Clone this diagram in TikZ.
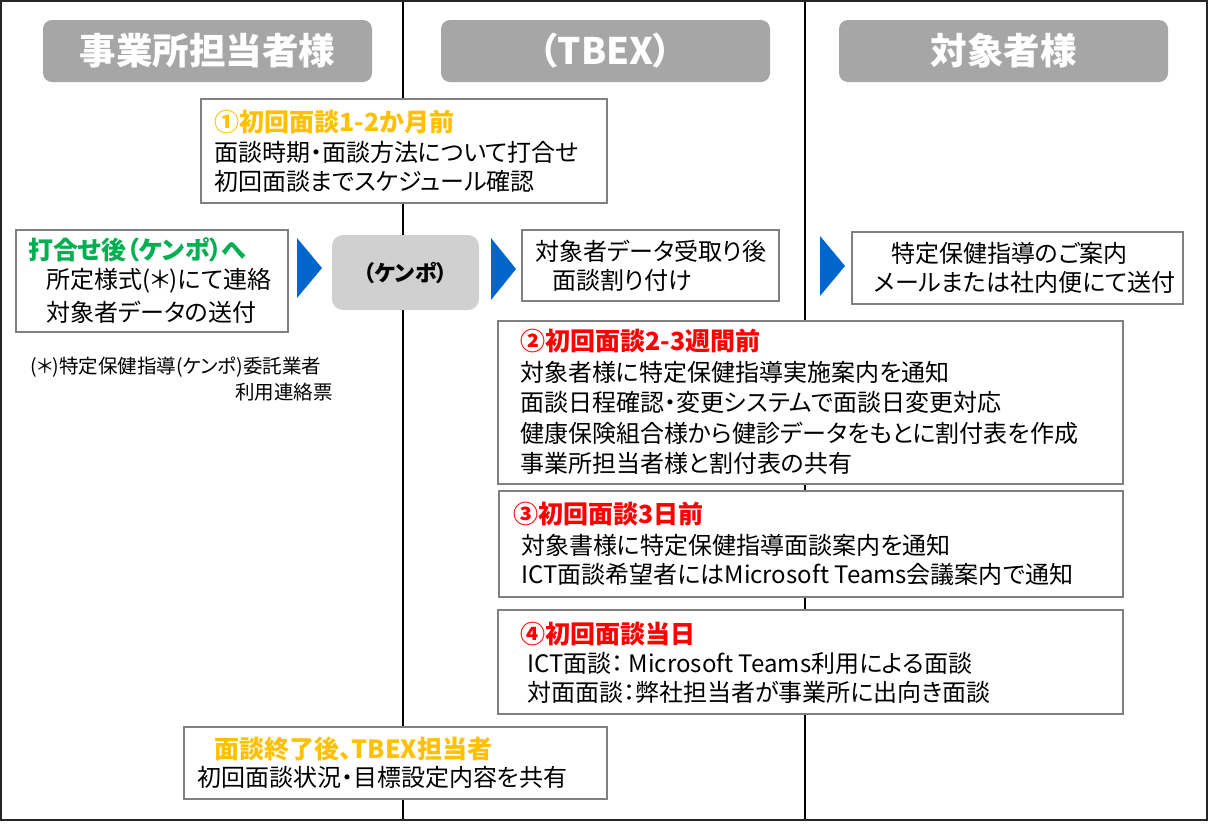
\documentclass[tikz,border=0pt]{standalone}
\usepackage{fontspec}
\setmainfont{Noto Sans CJK JP}[RawFeature=+palt]
\definecolor{hdrgray}{HTML}{A6A6A6}
\definecolor{kgray}{HTML}{D0D0D0}
\definecolor{boxline}{HTML}{808080}
\definecolor{amber}{HTML}{FFC000}
\definecolor{grn}{HTML}{00B050}
\definecolor{rd}{HTML}{FF0000}
\definecolor{blu}{HTML}{0066CC}
\tikzset{
  box/.style={draw=boxline, line width=1.5pt, fill=white, anchor=north west, inner sep=0pt},
  hdr/.style={fill=hdrgray, rounded corners=9pt, text=white, inner sep=0pt, font=\fontsize{36.5}{42}\selectfont\bfseries},
  txt/.style={anchor=west, inner sep=0pt, font=\fontsize{24}{29}\selectfont},
  ttl/.style={anchor=west, inner sep=0pt, font=\fontsize{25}{30}\selectfont\bfseries},
  note/.style={anchor=west, inner sep=0pt, font=\fontsize{19.5}{23}\selectfont},
  lane/.style={draw=black, line width=1.3pt},
  frame/.style={draw=black!85, line width=2pt},
  chev/.style={fill=blu}
}
\begin{document}
\begin{tikzpicture}[x=1pt,y=-1pt]
\useasboundingbox (0,0) rectangle (1209,823);
\fill[white] (0,0) rectangle (1209,823);
% lanes
\coordinate (l1t) at (403,1); \coordinate (l1b) at (403,820);
\coordinate (l2t) at (805,1); \coordinate (l2b) at (805,820);
\draw[lane] (l1t) -- (l1b);
\draw[lane] (l2t) -- (l2b);
\draw[frame] (1,1) rectangle (1207,820);
% headers
\node[hdr, minimum width=329pt, minimum height=62pt] (h1) at (207.5,51) {事業所担当者様};
\node[hdr, minimum width=329pt, minimum height=62pt] (h2) at (605.5,51) {（TBEX）};
\node[hdr, minimum width=329pt, minimum height=62pt] (h3) at (1003.5,51) {対象者様};
% box 1
\node[box, minimum width=406pt, minimum height=104pt] (b1) at (200,98) {};
\node[ttl, text=amber] (b1t) at (214,122) {①初回面談1-2か月前};
\node[txt] (b1a) at (214,152) {面談時期・面談方法について打合せ};
\node[txt] (b1b) at (214,181) {初回面談までスケジュール確認};
% left box
\node[box, minimum width=272pt, minimum height=102pt] (bl) at (15,229) {};
\node[ttl, text=grn] (blt) at (28,250) {打合せ後（ケンポ）へ};
\node[txt] (bla) at (46,281) {所定様式(＊)にて連絡};
\node[txt] (blb) at (46,312) {対象者データの送付};
\node[note] (n1) at (30,367) {(＊)特定保健指導(ケンポ)委託業者};
\node[note] (n2) at (235,392) {利用連絡票};
% kenpo
\node[fill=kgray, rounded corners=11pt, minimum width=147pt, minimum height=75pt, inner sep=0pt, font=\fontsize{22}{26}\selectfont\bfseries] (kp) at (405.5,272.5) {（ケンポ）};
% chevrons
\fill[chev] (297,238) -- (322,268) -- (297,298) -- cycle;
\fill[chev] (491,238) -- (516,269) -- (491,300) -- cycle;
\fill[chev] (820,236) -- (845,266) -- (820,296) -- cycle;
% data box
\node[box, minimum width=257pt, minimum height=71pt] (bd) at (521,229) {};
\node[txt] (bda) at (535,251) {対象者データ受取り後};
\node[txt] (bdb) at (552,280) {面談割り付け};
% right box
\node[box, minimum width=331pt, minimum height=72pt] (br) at (851,231) {};
\node[txt] (bra) at (891,253) {特定保健指導のご案内};
\node[txt] (brb) at (874,282) {メールまたは社内便にて送付};
% box 2
\node[box, minimum width=625pt, minimum height=163pt] (b2) at (497,320) {};
\node[ttl, text=rd] (b2t) at (520,341) {②初回面談2-3週間前};
\node[txt] (b2a) at (520,372) {対象者様に特定保健指導実施案内を通知};
\node[txt] (b2b) at (520,402) {面談日程確認・変更システムで面談日変更対応};
\node[txt] (b2c) at (520,433) {健康保険組合様から健診データをもとに割付表を作成};
\node[txt] (b2d) at (520,463) {事業所担当者様と割付表の共有};
% box 3
\node[box, minimum width=624pt, minimum height=106pt] (b3) at (498,490) {};
\node[ttl, text=rd] (b3t) at (513,514) {③初回面談3日前};
\node[txt] (b3a) at (521,545) {対象書様に特定保健指導面談案内を通知};
\node[txt] (b3b) at (521,574) {ICT面談希望者にはMicrosoft Teams会議案内で通知};
% box 4
\node[box, minimum width=625pt, minimum height=104pt] (b4) at (497,609) {};
\node[ttl, text=rd] (b4t) at (520,634) {④初回面談当日};
\node[txt] (b4a) at (527,663) {ICT面談：\ Microsoft Teams利用による面談};
\node[txt] (b4b) at (527,692) {対面面談：弊社担当者が事業所に出向き面談};
% bottom box
\node[box, minimum width=423pt, minimum height=72pt] (b5) at (183,726) {};
\node[ttl, text=amber] (b5t) at (214,749) {面談終了後、TBEX担当者};
\node[txt] (b5a) at (197,777) {初回面談状況・目標設定内容を共有};
\end{tikzpicture}
\end{document}
